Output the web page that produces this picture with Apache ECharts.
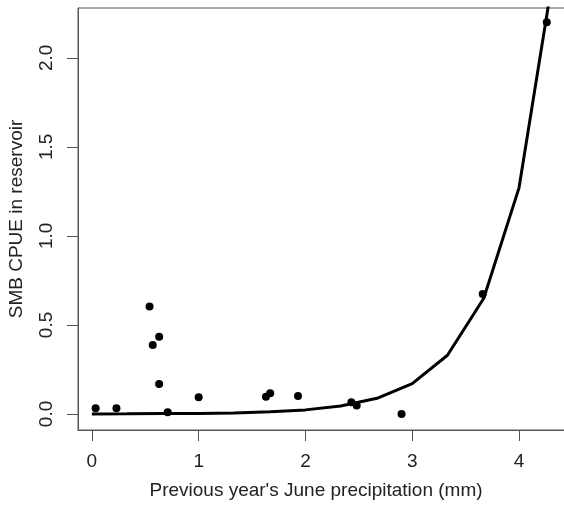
<!DOCTYPE html>
<html>
<head>
<meta charset="utf-8">
<script src="https://cdn.jsdelivr.net/npm/echarts@6/dist/echarts.min.js"></script>
<style>html,body{margin:0;padding:0;background:#fff}#c{width:564px;height:507px}</style>
</head>
<body>
<div id="c"></div>
<script>
// Observed data points: previous year's June precipitation (mm) vs SMB CPUE
const obsX = [0.035, 0.23, 0.54, 0.57, 0.63, 0.63, 0.71, 1.00, 1.63, 1.67, 1.93, 2.43, 2.48, 2.90, 3.66, 4.26];
const obsY = [0.032, 0.032, 0.603, 0.388, 0.434, 0.169, 0.010, 0.094, 0.097, 0.116, 0.101, 0.066, 0.047, 0.000, 0.674, 2.20];
// Fitted curve nodes
const fitX = [0, 0.33, 0.67, 1.0, 1.33, 1.67, 2.0, 2.33, 2.67, 3.0, 3.33, 3.67, 4.0, 4.33];
const fitY = [0.0004, 0.0008, 0.002, 0.003, 0.006, 0.012, 0.023, 0.045, 0.088, 0.17, 0.33, 0.65, 1.27, 2.5];
// Tick values
const xTicks = [0, 1, 2, 3, 4];
const yTicks = [0, 0.5, 1.0, 1.5, 2.0];

const chart = echarts.init(document.getElementById('c'));
const font = 'Liberation Sans, Arial, sans-serif';
const txt = '#222';
const axisCol = '#555';
chart.setOption({
  animation: false,
  backgroundColor: '#fff',
  grid: {left: 78, top: 8, width: 488, height: 422, outerBoundsMode: 'none', containLabel: false,
         show: true, borderColor: axisCol, borderWidth: 1, backgroundColor: 'transparent'},
  xAxis: {
    type: 'value', min: -0.13, max: 4.44,
    name: "Previous year's June precipitation (mm)",
    nameLocation: 'middle', nameGap: 51,
    nameTextStyle: {fontFamily: font, fontSize: 19, color: txt, padding: [0, 12, 0, 0]},
    axisLine: {show: true, onZero: false, lineStyle: {color: axisCol, width: 1}},
    splitLine: {show: false},
    axisTick: {show: true, length: 11, inside: false, customValues: xTicks, lineStyle: {color: axisCol, width: 1}},
    axisLabel: {customValues: xTicks, margin: 22, fontFamily: font, fontSize: 19, color: txt, formatter: v => String(v)}
  },
  yAxis: {
    type: 'value', min: -0.09, max: 2.28,
    name: 'SMB CPUE in reservoir',
    nameLocation: 'middle', nameGap: 52, nameRotate: 90,
    nameTextStyle: {fontFamily: font, fontSize: 19, color: txt},
    axisLine: {show: true, onZero: false, lineStyle: {color: axisCol, width: 1}},
    splitLine: {show: false},
    axisTick: {show: true, length: 11, inside: false, customValues: yTicks, lineStyle: {color: axisCol, width: 1}},
    axisLabel: {customValues: yTicks, rotate: 90, margin: 22, fontFamily: font, fontSize: 19, color: txt, formatter: v => v.toFixed(1)}
  },
  series: [
    {
      type: 'line', data: fitX.map((x, i) => [x, fitY[i]]),
      showSymbol: false, symbol: 'none', clip: true,
      lineStyle: {color: '#000', width: 3}, z: 2
    },
    {
      type: 'scatter', data: obsX.map((x, i) => [x, obsY[i]]),
      symbol: 'circle', symbolSize: 8, clip: true,
      itemStyle: {color: '#000', opacity: 1}, z: 3
    }
  ]
});
</script>
</body>
</html>
